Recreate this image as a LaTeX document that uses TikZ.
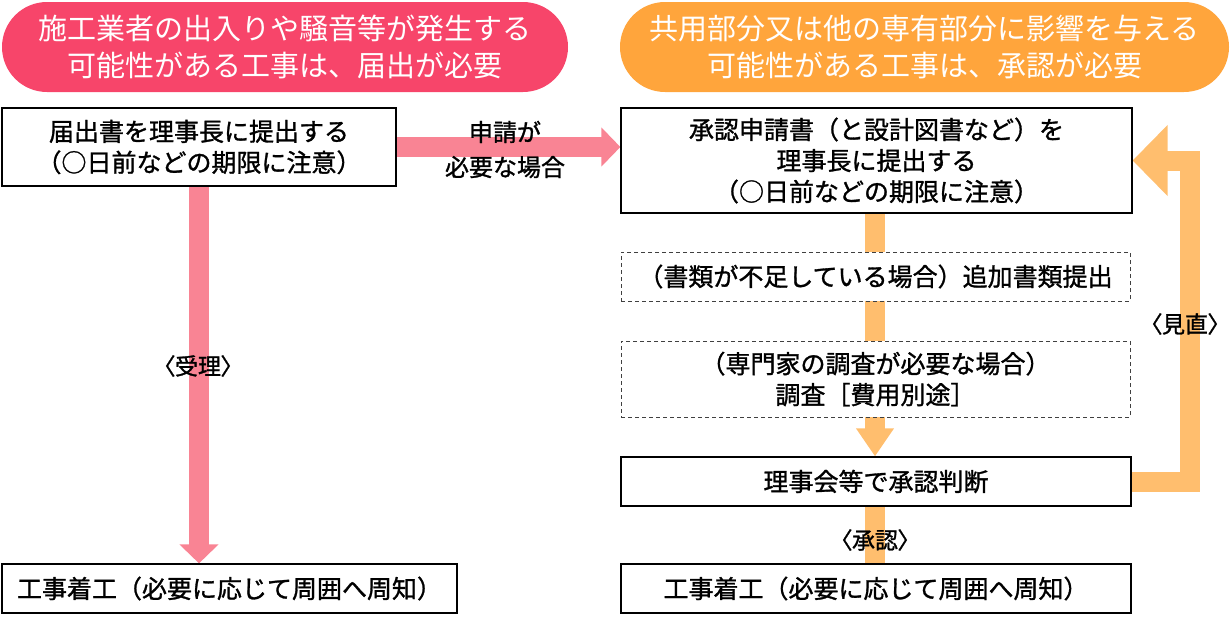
\documentclass[tikz,border=0pt]{standalone}
\usepackage{fontspec}
\setmainfont{Noto Sans CJK JP}
\newfontfamily\boxfont{Noto Sans CJK JP}[FakeBold=1.2]
\newfontfamily\tagfont{Noto Sans CJK JP}[FakeBold=1.2,RawFeature=+palt]
\usetikzlibrary{arrows.meta,backgrounds}
\definecolor{pillpink}{HTML}{F7456A}
\definecolor{pillorange}{HTML}{FFA53C}
\definecolor{flowpink}{HTML}{F98494}
\definecolor{floworange}{HTML}{FFBE6E}

\begin{document}
\begin{tikzpicture}[x=1pt,y=-1pt,
    every node/.style={inner sep=0pt,align=center},
    pill/.style={rounded corners=45pt,minimum height=90pt,text=white,
                 font=\fontsize{29}{37}\selectfont},
    stepbox/.style={draw=black,line width=1.2pt,fill=white,minimum height=49pt,
                    font=\boxfont\fontsize{25}{31}\selectfont},
    optbox/.style={stepbox,draw=black!75,line width=0.8pt,dash pattern=on 4pt off 3pt},
    tag/.style={font=\tagfont\fontsize{23}{35}\selectfont},
    pinkflow/.style={draw=flowpink,line width=20pt,-{Triangle[width=38pt,length=19pt]}},
    orangeflow/.style={draw=floworange,line width=20pt,line join=miter}]
  \useasboundingbox (0,0) rectangle (1231,616);

  % headers
  \node[pill,fill=pillpink,minimum width=566pt] (notice) at (285,47)
    {施工業者の出入りや騒音等が発生する\\可能性がある工事は、届出が必要};
  \node[pill,fill=pillorange,minimum width=609pt] (approval) at (924.5,47)
    {共用部分又は他の専有部分に影響を与える\\可能性がある工事は、承認が必要};

  % left flow
  \node[stepbox,minimum width=394pt,minimum height=78pt] (report) at (199,147)
    {届出書を理事長に提出する\\（○日前などの期限に注意）};
  \node[stepbox,minimum width=455pt] (startL) at (229.5,588.5)
    {工事着工（必要に応じて周囲へ周知）};

  % right flow
  \node[stepbox,minimum width=511pt,minimum height=105pt] (apply) at (876.5,160.5)
    {承認申請書（と設計図書など）を\\理事長に提出する\\（○日前などの期限に注意）};
  \node[optbox,minimum width=509pt] (extra) at (875.5,276.5)
    {（書類が不足している場合）追加書類提出};
  \node[optbox,minimum width=509pt,minimum height=76pt] (survey) at (875.5,379)
    {（専門家の調査が必要な場合）\\調査［費用別途］};
  \node[stepbox,minimum width=510pt] (judge) at (876,481.5)
    {理事会等で承認判断};
  \node[stepbox,minimum width=510pt] (startR) at (876,588.5)
    {工事着工（必要に応じて周囲へ周知）};

  % connectors
  \begin{scope}[on background layer]
    \draw[pinkflow] (report.south) -- (report.south |- startL.north);
    \draw[pinkflow] (report.east) -- (report.east -| apply.west);
    \draw[orangeflow,-{Triangle[width=36pt,length=28pt]}]
      (apply.south -| 875,0) -- (judge.north -| 875,0);
    \draw[orangeflow] (judge.south -| 875,0) -- (startR.north -| 875,0);
    \draw[orangeflow,-{Triangle[width=69pt,length=35pt]}]
      (judge.east) -- ++(58,0) |- (apply.east);
  \end{scope}

  % labels
  \node[tag,font=\boxfont\fontsize{24}{35}\selectfont] (ask) at (505,149.5) {申請が\\必要な場合};
  \node[tag] (accept) at (198,366) {〈受理〉};
  \node[tag] (ok) at (875,540) {〈承認〉};
  \node[tag] (redo) at (1185,324) {〈見直〉};
\end{tikzpicture}
\end{document}
